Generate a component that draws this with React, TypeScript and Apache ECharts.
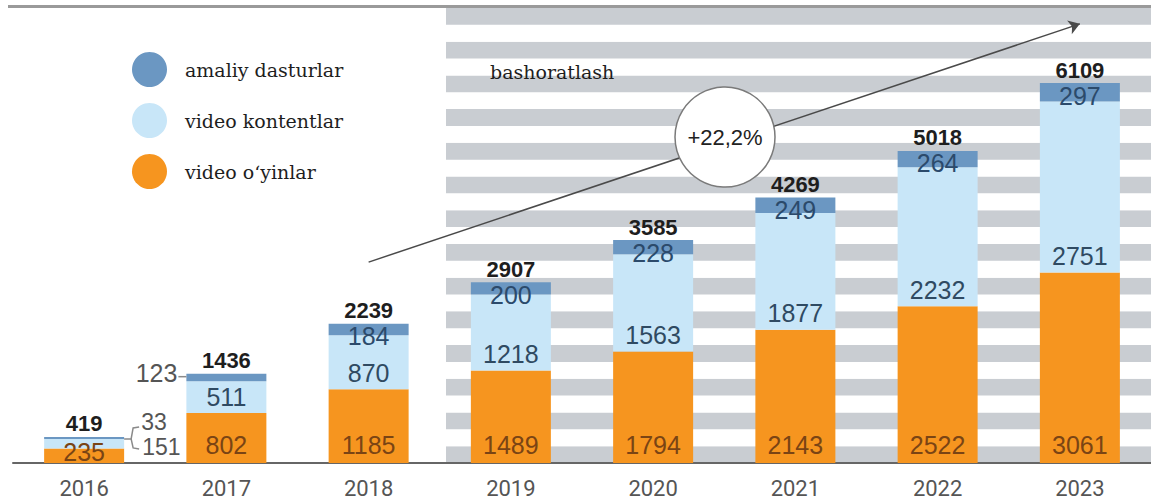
import React, { useEffect, useRef } from "react";
import * as echarts from "echarts";

const years = ["2016", "2017", "2018", "2019", "2020", "2021", "2022", "2023"];
const games = [235, 802, 1185, 1489, 1794, 2143, 2522, 3061];
const videos = [151, 511, 870, 1218, 1563, 1877, 2232, 2751];
const apps = [33, 123, 184, 200, 228, 249, 264, 297];
const totals = [419, 1436, 2239, 2907, 3585, 4269, 5018, 6109];
const legendNames = ["amaliy dasturlar", "video kontentlar", "video o\u2018yinlar"];
const growthLabel = "+22,2%";
const forecastLabel = "bashoratlash";

const C_ORANGE = "#f6951f";
const C_LIGHT = "#c8e6f8";
const C_DARK = "#6b97c2";
const NUM_FONT = "'Liberation Sans', Arial, sans-serif";
const NARROW_FONT = "'Liberation Sans Narrow', 'Roboto', 'Liberation Sans', sans-serif";
const SERIF_FONT = "'DejaVu Serif', 'Liberation Serif', serif";
const BAR_W = 80;

export default function App() {
  const ref = useRef<HTMLDivElement>(null);

  useEffect(() => {
    if (!ref.current) return;
    const chart = echarts.init(ref.current, null, { renderer: "svg" });

    const segLabel = (color: string, position: string, distance: number) => ({
      show: true,
      position,
      distance,
      fontFamily: NUM_FONT,
      fontSize: 25,
      color,
    });

    const option: any = {
      animation: false,
      backgroundColor: "#ffffff",
      grid: [
        { left: 13, top: 8, bottom: 38, width: 1148 },
        { left: 446, right: 0, top: 8, bottom: 38 },
      ],
      xAxis: [
        {
          type: "category",
          gridIndex: 0,
          data: years,
          axisTick: { show: false },
          axisLine: { lineStyle: { color: "#666666", width: 2 } },
          axisLabel: {
            margin: 16,
            fontSize: 22,
            lineHeight: 18,
            color: "#555555",
            fontFamily: NARROW_FONT,
          },
        },
        { type: "value", gridIndex: 1, show: false, min: 0, max: 1 },
      ],
      yAxis: [
        { type: "value", gridIndex: 0, min: 0, max: 7315, show: false, splitLine: { show: false } },
        {
          type: "value",
          gridIndex: 1,
          min: 0,
          max: 27,
          interval: 1,
          axisLine: { show: false },
          axisTick: { show: false },
          axisLabel: { show: false },
          splitLine: { show: false },
          splitArea: { show: true, areaStyle: { color: ["#c9cdd2", "#ffffff"] } },
        },
      ],
      legend: {
        data: legendNames,
        orient: "vertical",
        left: 127,
        top: 47,
        itemWidth: 35,
        itemHeight: 35,
        itemGap: 16,
        icon: "circle",
        selectedMode: false,
        textStyle: { fontFamily: SERIF_FONT, fontSize: 19, color: "#1e1e1e", padding: [0, 0, 0, 13] },
      },
      series: [
        {
          name: legendNames[2],
          type: "bar",
          stack: "s",
          barWidth: BAR_W,
          itemStyle: { color: C_ORANGE },
          label: segLabel("#7a4414", "insideBottom", 6),
          data: games.map((v, i) =>
            i === 0 ? { value: v, label: { distance: -1 } } : v
          ),
        },
        {
          name: legendNames[1],
          type: "bar",
          stack: "s",
          barWidth: BAR_W,
          itemStyle: { color: C_LIGHT },
          label: segLabel("#2f4a62", "insideBottom", 4),
          data: videos.map((v, i) =>
            i === 0
              ? {
                  value: v,
                  label: {
                    position: [98, 8],
                    align: "left",
                    verticalAlign: "middle",
                    fontSize: 23,
                    lineHeight: 20,
                    color: "#555555",
                  },
                }
              : v
          ),
        },
        {
          name: legendNames[0],
          type: "bar",
          stack: "s",
          barWidth: BAR_W,
          itemStyle: { color: C_DARK },
          label: segLabel("#2b4a6b", "insideTop", 0),
          data: apps.map((v, i) => {
            if (i === 0)
              return {
                value: v,
                label: {
                  position: [97, -15],
                  align: "left",
                  verticalAlign: "middle",
                  fontSize: 23,
                  lineHeight: 20,
                  color: "#555555",
                },
              };
            if (i === 1)
              return {
                value: v,
                label: {
                  position: [-9, -1],
                  align: "right",
                  verticalAlign: "middle",
                  lineHeight: 20,
                  color: "#555555",
                },
              };
            return v;
          }),
        },
        {
          name: "total",
          type: "bar",
          stack: "s",
          barWidth: BAR_W,
          itemStyle: { color: "rgba(0,0,0,0)" },
          label: {
            show: true,
            position: "top",
            distance: 2,
            fontFamily: NUM_FONT,
            fontWeight: "bold",
            fontSize: 22,
            color: "#1e1e1e",
            formatter: (p: any) => String(totals[p.dataIndex]),
          },
          data: totals.map(() => 0),
          markLine: {
            silent: true,
            symbol: ["none", "arrow"],
            symbolSize: 11,
            label: { show: false },
            lineStyle: { color: "#4a4a4a", width: 1.5, type: "solid" },
            data: [[{ coord: ["2018", 3230] }, { coord: ["2023", 7060] }]],
          },
        },
      ],
    };

    chart.setOption(option);

    const p16 = chart.convertToPixel({ xAxisIndex: 0, yAxisIndex: 0 }, [years[0], totals[0]]) as number[];
    const p17 = chart.convertToPixel({ xAxisIndex: 0, yAxisIndex: 0 }, [years[1], totals[1]]) as number[];
    const x0 = p16[0] + BAR_W / 2;
    const yT = p16[1];
    const x17 = p17[0] - BAR_W / 2;
    const y17 = p17[1];
    const leader = { stroke: "#8a8a8a", lineWidth: 1.5, fill: null };

    chart.setOption({
      graphic: [
        {
          type: "line",
          z: 100,
          shape: { x1: 8, y1: 6.5, x2: 1151, y2: 6.5 },
          style: { stroke: "#9a9a9a", lineWidth: 3 },
        },
        {
          type: "polyline",
          z: 100,
          shape: { points: [[x0, yT + 2], [x0 + 7, yT + 2], [x0 + 9, yT - 9], [x0 + 15, yT - 10]] },
          style: leader,
        },
        {
          type: "polyline",
          z: 100,
          shape: { points: [[x0 + 7, yT + 2], [x0 + 9, yT + 11], [x0 + 15, yT + 12]] },
          style: leader,
        },
        {
          type: "line",
          z: 100,
          shape: { x1: x17 - 8, y1: y17 + 3, x2: x17, y2: y17 + 3 },
          style: { stroke: "#8a8a8a", lineWidth: 1.5 },
        },
        {
          type: "circle",
          z: 100,
          shape: { cx: 725, cy: 137, r: 50 },
          style: { fill: "#ffffff", stroke: "#7a7a7a", lineWidth: 1.5 },
        },
        {
          type: "text",
          z: 101,
          x: 725,
          y: 137,
          style: {
            text: growthLabel,
            fontFamily: NUM_FONT,
            fontSize: 22,
            fill: "#222222",
            align: "center",
            verticalAlign: "middle",
          },
        },
        {
          type: "text",
          z: 101,
          x: 490,
          y: 72,
          style: {
            text: forecastLabel,
            fontFamily: SERIF_FONT,
            fontSize: 19,
            fill: "#1e1e1e",
            align: "left",
            verticalAlign: "middle",
          },
        },
      ],
    });

    return () => chart.dispose();
  }, []);

  return (
    <div
      ref={ref}
      style={{ position: "fixed", left: 0, top: 0, width: 1151, height: 501, background: "#ffffff" }}
    />
  );
}
